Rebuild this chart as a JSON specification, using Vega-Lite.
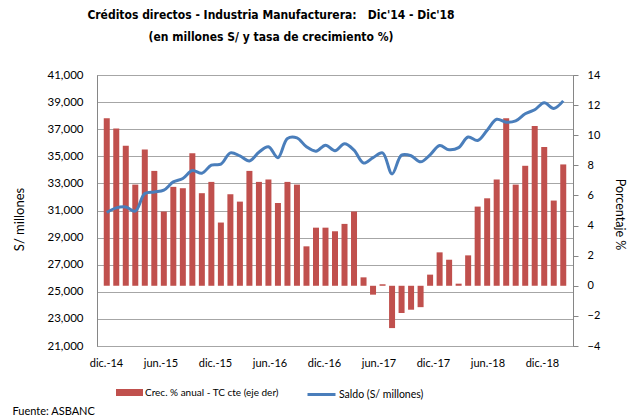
{
  "$schema": "https://vega.github.io/schema/vega-lite/v6.json",
  "width": 476,
  "height": 271,
  "autosize": {"type": "none"},
  "padding": {"left": 97, "top": 75, "right": 56, "bottom": 70},
  "background": "white",
  "config": {
    "view": {"stroke": "#868686", "strokeWidth": 1},
    "font": "Lato",
    "axis": {"labelColor": "black", "titleColor": "black", "labelFont": "Lato", "titleFont": "Lato"},
    "legend": {"labelFont": "Lato", "labelColor": "black"}
  },
  "title": {
    "text": ["Créditos directos - Industria Manufacturera:\u00a0\u00a0\u00a0Dic'14 - Dic'18", "(en millones S/ y tasa de crecimiento %)"],
    "font": "Liberation Sans Narrow, DejaVu Sans Condensed, Roboto",
    "fontSize": 12,
    "fontWeight": "bold",
    "color": "black",
    "anchor": "middle",
    "frame": "group",
    "dx": -64,
    "offset": 25,
    "lineHeight": 22
  },
  "data": {
    "values": [
      {"i": 0, "mes": "dic.-14", "crec": 11.12, "saldo": 30850},
      {"i": 1, "mes": "ene.-15", "crec": 10.45, "saldo": 31190},
      {"i": 2, "mes": "feb.-15", "crec": 9.30, "saldo": 31260},
      {"i": 3, "mes": "mar.-15", "crec": 6.72, "saldo": 30950},
      {"i": 4, "mes": "abr.-15", "crec": 9.05, "saldo": 32250},
      {"i": 5, "mes": "may.-15", "crec": 7.63, "saldo": 32370},
      {"i": 6, "mes": "jun.-15", "crec": 4.93, "saldo": 32500},
      {"i": 7, "mes": "jul.-15", "crec": 6.57, "saldo": 33110},
      {"i": 8, "mes": "ago.-15", "crec": 6.48, "saldo": 33360},
      {"i": 9, "mes": "set.-15", "crec": 8.81, "saldo": 33950},
      {"i": 10, "mes": "oct.-15", "crec": 6.15, "saldo": 33750},
      {"i": 11, "mes": "nov.-15", "crec": 6.90, "saldo": 34350},
      {"i": 12, "mes": "dic.-15", "crec": 4.20, "saldo": 34420},
      {"i": 13, "mes": "ene.-16", "crec": 6.08, "saldo": 35250},
      {"i": 14, "mes": "feb.-16", "crec": 5.59, "saldo": 35030},
      {"i": 15, "mes": "mar.-16", "crec": 7.63, "saldo": 34660},
      {"i": 16, "mes": "abr.-16", "crec": 6.90, "saldo": 35300},
      {"i": 17, "mes": "may.-16", "crec": 7.06, "saldo": 35700},
      {"i": 18, "mes": "jun.-16", "crec": 5.50, "saldo": 34900},
      {"i": 19, "mes": "jul.-16", "crec": 6.90, "saldo": 36320},
      {"i": 20, "mes": "ago.-16", "crec": 6.72, "saldo": 36360},
      {"i": 21, "mes": "set.-16", "crec": 2.62, "saldo": 35700},
      {"i": 22, "mes": "oct.-16", "crec": 3.86, "saldo": 35380},
      {"i": 23, "mes": "nov.-16", "crec": 3.86, "saldo": 35820},
      {"i": 24, "mes": "dic.-16", "crec": 3.62, "saldo": 35410},
      {"i": 25, "mes": "ene.-17", "crec": 4.11, "saldo": 35920},
      {"i": 26, "mes": "feb.-17", "crec": 4.93, "saldo": 35450},
      {"i": 27, "mes": "mar.-17", "crec": 0.56, "saldo": 34500},
      {"i": 28, "mes": "abr.-17", "crec": -0.59, "saldo": 34900},
      {"i": 29, "mes": "may.-17", "crec": 0.10, "saldo": 35250},
      {"i": 30, "mes": "jun.-17", "crec": -2.81, "saldo": 33700},
      {"i": 31, "mes": "jul.-17", "crec": -1.81, "saldo": 35085},
      {"i": 32, "mes": "ago.-17", "crec": -1.59, "saldo": 35040},
      {"i": 33, "mes": "set.-17", "crec": -1.42, "saldo": 34590},
      {"i": 34, "mes": "oct.-17", "crec": 0.74, "saldo": 35110},
      {"i": 35, "mes": "nov.-17", "crec": 2.22, "saldo": 35790},
      {"i": 36, "mes": "dic.-17", "crec": 1.73, "saldo": 35480},
      {"i": 37, "mes": "ene.-18", "crec": 0.14, "saldo": 35640},
      {"i": 38, "mes": "feb.-18", "crec": 2.02, "saldo": 36420},
      {"i": 39, "mes": "mar.-18", "crec": 5.26, "saldo": 36170},
      {"i": 40, "mes": "abr.-18", "crec": 5.81, "saldo": 36930},
      {"i": 41, "mes": "may.-18", "crec": 7.06, "saldo": 37735},
      {"i": 42, "mes": "jun.-18", "crec": 11.12, "saldo": 37515},
      {"i": 43, "mes": "jul.-18", "crec": 6.72, "saldo": 37610},
      {"i": 44, "mes": "ago.-18", "crec": 7.97, "saldo": 38140},
      {"i": 45, "mes": "set.-18", "crec": 10.61, "saldo": 38435},
      {"i": 46, "mes": "oct.-18", "crec": 9.21, "saldo": 38950},
      {"i": 47, "mes": "nov.-18", "crec": 5.66, "saldo": 38535},
      {"i": 48, "mes": "dic.-18", "crec": 8.06, "saldo": 39090}
    ]
  },
  "encoding": {
    "x": {
      "field": "i",
      "type": "quantitative",
      "scale": {"domain": [-0.5, 48.5], "nice": false, "zero": false},
      "axis": {
        "values": [-0.08, 5.65, 11.38, 17.11, 22.84, 28.57, 34.3, 40.03, 45.76],
        "labelExpr": "['dic.-14','jun.-15','dic.-15','jun.-16','dic.-16','jun.-17','dic.-17','jun.-18','dic.-18'][round((datum.value + 0.08) / 5.73)]",
        "ticks": false,
        "grid": false,
        "domain": false,
        "labelFontSize": 11,
        "labelPadding": 11,
        "labelFlush": false,
        "labelOverlap": false,
        "title": "Fuente: ASBANC",
        "titleX": -85,
        "titleY": 65,
        "titleAlign": "left",
        "titleAngle": 0,
        "titleBaseline": "middle",
        "titleFontSize": 11,
        "titleFontWeight": "normal"
      }
    }
  },
  "layer": [
    {
      "mark": {"type": "bar", "width": 6, "color": "#C0504D"},
      "encoding": {
        "y": {
          "field": "crec",
          "type": "quantitative",
          "scale": {"domain": [-4, 14], "nice": false},
          "axis": {
            "orient": "right",
            "values": [-4, -2, 0, 2, 4, 6, 8, 10, 12, 14],
            "grid": false,
            "domainColor": "#868686",
            "tickColor": "#868686",
            "tickSize": 5,
            "labelPadding": 9,
            "labelFontSize": 11,
            "title": "Porcentaje %",
            "titleAngle": 90,
            "titleX": 46,
            "titleY": 139,
            "titleAlign": "center",
            "titleBaseline": "middle",
            "titleFontSize": 12.5,
            "titleFontWeight": "normal"
          }
        },
        "fill": {
          "datum": "Crec. % anual - TC cte (eje der)",
          "scale": {"range": ["#C0504D"]},
          "legend": {
            "orient": "none",
            "legendX": 19,
            "legendY": 304,
            "direction": "horizontal",
            "title": null,
            "symbolType": "M-1,-0.26H1V0.26H-1Z",
            "symbolSize": 729,
            "symbolStrokeWidth": 0,
            "labelFontSize": 10,
            "labelOffset": 2
          }
        }
      }
    },
    {
      "mark": {"type": "line", "interpolate": "catmull-rom", "strokeWidth": 3, "color": "#4A7EBB"},
      "encoding": {
        "y": {
          "field": "saldo",
          "type": "quantitative",
          "scale": {"domain": [21000, 41000], "nice": false, "zero": false},
          "axis": {
            "orient": "left",
            "values": [21000, 23000, 25000, 27000, 29000, 31000, 33000, 35000, 37000, 39000, 41000],
            "format": ",.0f",
            "grid": true,
            "gridColor": "#a6a6a6",
            "ticks": false,
            "domainColor": "#868686",
            "labelPadding": 14,
            "labelFontSize": 11.5,
            "title": "S/ millones",
            "titleAngle": -90,
            "titleX": -78,
            "titleY": 144,
            "titleAlign": "center",
            "titleBaseline": "middle",
            "titleFontSize": 13,
            "titleFontWeight": "normal"
          }
        },
        "stroke": {
          "datum": "Saldo (S/ millones)",
          "scale": {"range": ["#4A7EBB"]},
          "legend": {
            "orient": "none",
            "legendX": 209,
            "legendY": 304,
            "direction": "horizontal",
            "title": null,
            "symbolType": "M-1,0H1",
            "symbolSize": 784,
            "symbolStrokeWidth": 3,
            "labelFontSize": 10.5,
            "labelOffset": 2
          }
        }
      }
    }
  ],
  "resolve": {"scale": {"y": "independent"}}
}
